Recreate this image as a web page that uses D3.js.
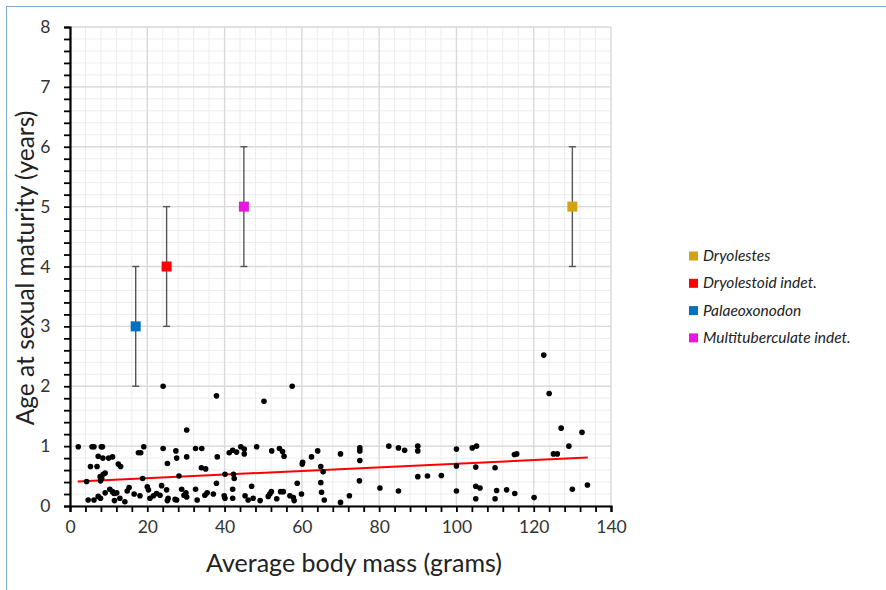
<!DOCTYPE html>
<html>
<head>
<meta charset="utf-8">
<script src="https://cdn.jsdelivr.net/npm/d3@7"></script>
<style>
  body { margin: 0; background: #fff; }
  svg { display: block; font-family: Lato, "Open Sans", sans-serif; }
</style>
</head>
<body>
<svg id="chart" width="886" height="590"></svg>
<script>
// ---- data ----
const massX = [
  2.15,5.7,6.2,8.1,8.4,7.3,8.5,10.0,11.0,12.5,13.1,5.3,7.0,4.3,
  7.8,8.2,8.6,7.9,9.1,4.7,6.2,7.3,7.9,9.1,10.3,11.0,11.4,12.1,11.5,12.9,14.2,
  15.3,14.8,16.6,18.1,17.7,18.3,19.1,18.8,24.1,30.2,24.1,25.2,27.4,27.6,30.2,28.2,
  20.0,20.3,20.7,21.6,22.4,23.3,23.7,25.0,25.4,25.2,27.2,27.6,28.9,29.5,30.0,30.2,
  32.5,34.1,37.9,50.2,57.5,34.0,35.1,38.1,41.2,42.1,43.1,44.2,45.1,45.1,48.3,
  52.2,54.2,55.0,55.4,60.2,60.1,62.5,64.1,64.9,65.5,40.1,42.3,42.5,37.9,47.0,58.8,
  32.5,32.9,34.9,35.5,37.1,39.9,40.1,42.1,42.1,45.3,46.1,47.4,49.2,51.3,51.7,52.1,
  53.5,54.5,55.2,56.9,57.8,58.0,59.9,65.1,65.8,
  64.9,70.0,70.0,72.3,75.0,75.0,75.0,74.9,80.2,82.5,85.0,86.6,85.0,90.0,90.0,90.0,
  92.5,96.1,100.0,100.0,100.0,
  104.1,105.2,105.0,105.0,106.1,105.0,110.0,110.4,110.0,113.0,115.0,115.6,115.1,
  120.1,122.6,124.0,125.1,126.1,127.1,129.1,130.0,132.5,133.9
];
const ageY = [
  0.99,0.99,0.99,0.99,0.99,0.83,0.80,0.80,0.82,0.70,0.66,0.66,0.66,0.41,
  0.49,0.46,0.53,0.42,0.55,0.10,0.10,0.16,0.13,0.22,0.28,0.24,0.21,0.22,0.09,0.13,0.07,
  0.31,0.25,0.20,0.17,0.89,0.89,0.99,0.46,2.0,1.27,0.96,0.71,0.92,0.80,0.82,0.50,
  0.32,0.27,0.13,0.17,0.21,0.18,0.34,0.27,0.13,0.09,0.11,0.10,0.28,0.18,0.22,0.15,
  0.96,0.96,1.84,1.75,2.0,0.64,0.62,0.82,0.89,0.93,0.90,0.99,0.95,0.87,0.99,
  0.92,0.96,0.91,0.83,0.73,0.70,0.82,0.92,0.66,0.57,0.53,0.53,0.46,0.38,0.33,0.38,
  0.28,0.10,0.18,0.22,0.20,0.17,0.13,0.28,0.13,0.17,0.10,0.13,0.09,0.16,0.20,0.24,
  0.12,0.24,0.24,0.17,0.14,0.09,0.20,0.23,0.10,
  0.39,0.87,0.06,0.17,0.97,0.92,0.76,0.42,0.30,1.0,0.97,0.93,0.25,1.0,0.92,0.49,
  0.50,0.51,0.95,0.67,0.25,
  0.97,1.0,0.65,0.33,0.30,0.12,0.64,0.26,0.12,0.27,0.86,0.87,0.21,
  0.14,2.52,1.88,0.87,0.87,1.30,1.0,0.28,1.23,0.35
];

const taxa = ["Dryolestes", "Dryolestoid indet.", "Palaeoxonodon", "Multituberculate indet."];
const taxaMass = [130, 25, 17, 45];
const taxaAge = [5, 4, 3, 5];
const taxaLow = [4, 3, 2, 4];
const taxaHigh = [6, 5, 4, 6];
const taxaColors = ["#D4A20E", "#FF0000", "#0070C0", "#E816E0"];

const trendX = [2, 134];
const trendY = [0.41, 0.81];

const xTicks = [0, 20, 40, 60, 80, 100, 120, 140];
const yTicks = [0, 1, 2, 3, 4, 5, 6, 7, 8];

// ---- layout ----
const svg = d3.select("#chart");
const L = 70, T = 27, R = 611, B = 506;
const x = d3.scaleLinear().domain([0, 140]).range([L, R]);
const y = d3.scaleLinear().domain([0, 8]).range([B, T]);

// outer frame
svg.append("rect").attr("x", 6.5).attr("y", 6.5).attr("width", 900).attr("height", 600)
  .attr("fill", "none").attr("stroke", "#7FA8D0").attr("stroke-width", 1);

// minor grid
const g = svg.append("g");
g.selectAll("line.vx").data(d3.range(0, 141, 4)).join("line")
  .attr("x1", d => x(d)).attr("x2", d => x(d)).attr("y1", T).attr("y2", B)
  .attr("stroke", "#EDEDED").attr("stroke-width", 1);
g.selectAll("line.hy").data(d3.range(0, 41).map(i => i * 0.2)).join("line")
  .attr("y1", d => y(d)).attr("y2", d => y(d)).attr("x1", L).attr("x2", R)
  .attr("stroke", "#EDEDED").attr("stroke-width", 1);
// major grid
g.append("g").selectAll("line").data(xTicks).join("line")
  .attr("x1", d => x(d)).attr("x2", d => x(d)).attr("y1", T).attr("y2", B)
  .attr("stroke", "#D9D9D9").attr("stroke-width", 1.3);
g.append("g").selectAll("line").data(yTicks).join("line")
  .attr("y1", d => y(d)).attr("y2", d => y(d)).attr("x1", L).attr("x2", R)
  .attr("stroke", "#D9D9D9").attr("stroke-width", 1.3);

// axes
const xAxis = d3.axisBottom(x).tickValues(d3.range(0, 141, 4)).tickSize(6)
  .tickFormat(d => xTicks.includes(d) ? d : "");
const gx = svg.append("g").attr("transform", `translate(0,${B})`).call(xAxis);
gx.select(".domain").attr("stroke", "#000").attr("stroke-width", 2.2);
gx.selectAll(".tick line").attr("stroke", "#000").attr("stroke-width", 1.8);
gx.selectAll(".tick text").attr("font-size", 17.5).attr("fill", "#333").attr("dy", "1.05em")
  .attr("font-family", "Lato, sans-serif");

const yAxis = d3.axisLeft(y).tickValues(d3.range(0, 41).map(i => +(i * 0.2).toFixed(1))).tickSize(6)
  .tickFormat(d => Number.isInteger(d) ? d : "");
const gy = svg.append("g").attr("transform", `translate(${L},0)`).call(yAxis);
gy.select(".domain").attr("stroke", "#000").attr("stroke-width", 2.2);
gy.selectAll(".tick line").attr("stroke", "#000").attr("stroke-width", 1.8);
gy.selectAll(".tick text").attr("font-size", 17.5).attr("fill", "#333").attr("dx", "-0.6em")
  .attr("font-family", "Lato, sans-serif");

// trend line
svg.append("line")
  .attr("x1", x(trendX[0])).attr("y1", y(trendY[0]))
  .attr("x2", x(trendX[1])).attr("y2", y(trendY[1]))
  .attr("stroke", "#FF0000").attr("stroke-width", 2);

// scatter
svg.append("g").selectAll("circle").data(massX.map((m, i) => [m, ageY[i]])).join("circle")
  .attr("cx", d => x(d[0])).attr("cy", d => y(d[1])).attr("r", 2.8).attr("fill", "#000");

// error bars
const eb = svg.append("g").attr("stroke", "#555").attr("stroke-width", 1.4);
taxa.forEach((t, i) => {
  const cx = x(taxaMass[i]);
  eb.append("line").attr("x1", cx).attr("x2", cx).attr("y1", y(taxaLow[i])).attr("y2", y(taxaHigh[i]));
  eb.append("line").attr("x1", cx - 3.5).attr("x2", cx + 3.5).attr("y1", y(taxaLow[i])).attr("y2", y(taxaLow[i]));
  eb.append("line").attr("x1", cx - 3.5).attr("x2", cx + 3.5).attr("y1", y(taxaHigh[i])).attr("y2", y(taxaHigh[i]));
});
svg.append("g").selectAll("rect").data(taxa).join("rect")
  .attr("x", (d, i) => x(taxaMass[i]) - 5).attr("y", (d, i) => y(taxaAge[i]) - 5)
  .attr("width", 10).attr("height", 10).attr("fill", (d, i) => taxaColors[i]);

// axis titles
svg.append("text").attr("x", 354).attr("y", 572).attr("text-anchor", "middle")
  .attr("font-size", 25).attr("fill", "#222").text("Average body mass (grams)");
svg.append("text").attr("transform", "translate(34,268) rotate(-90)").attr("text-anchor", "middle")
  .attr("font-size", 24.5).attr("fill", "#222").text("Age at sexual maturity (years)");

// legend
const lg = svg.append("g");
taxa.forEach((t, i) => {
  const cy = 256 + i * 27.3;
  lg.append("rect").attr("x", 689).attr("y", cy - 4.5).attr("width", 9).attr("height", 9).attr("fill", taxaColors[i]);
  lg.append("text").attr("x", 703).attr("y", cy + 5).attr("font-size", 15.5).attr("font-style", "italic")
    .attr("fill", "#222").text(t);
});
</script>
</body>
</html>
